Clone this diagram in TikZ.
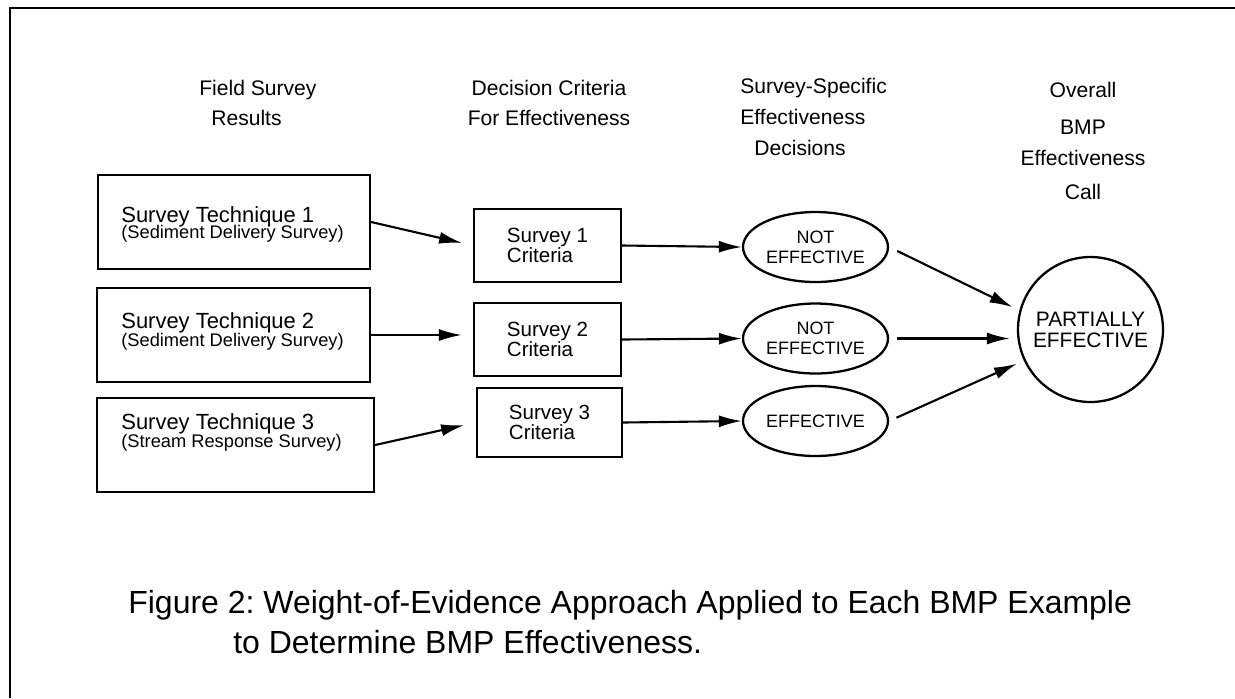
\documentclass[tikz,border=0pt]{standalone}
\usepackage{fontspec}
\setmainfont{Liberation Sans}
\usepackage{tikz}
\usetikzlibrary{arrows.meta,positioning,shapes.geometric}

\newcommand{\subline}{\fontsize{10.4}{10.5}\selectfont}
\frenchspacing

\begin{document}
\begin{tikzpicture}[x=0.02cm,y=-0.02cm,
    technique/.style={draw=black,line width=1.3pt,minimum width=5.44cm,
      minimum height=1.88cm,inner sep=0pt},
    techtext/.style={align=left,inner sep=0pt,anchor=north west,
      font=\fontsize{12.5}{10.5}\selectfont},
    crit/.style={draw=black,line width=1.3pt,minimum width=2.94cm,
      minimum height=1.46cm,inner sep=0pt,align=left,
      font=\fontsize{11.7}{11.8}\selectfont},
    verdict/.style={draw=black,line width=1.3pt,ellipse,minimum width=2.9cm,
      minimum height=1.4cm,inner sep=0pt,align=center,
      font=\fontsize{10.2}{11.4}\selectfont},
    overall/.style={draw=black,line width=1.3pt,circle,minimum size=2.9cm,
      inner sep=0pt,align=center,font=\fontsize{11.9}{12}\selectfont},
    head/.style={inner sep=0pt,font=\fontsize{12}{17}\selectfont},
    flow/.style={-{Latex[length=4.6mm,width=2.4mm]},line width=1.2pt}
  ]
    \path[use as bounding box,fill=white] (0,0) rectangle (1235,698);
    \draw[line width=1.1pt] (10,698) -- (10,8) -- (1235,8);

    % column headings
    \node[head,align=left,anchor=north west] (hfield) at (199,80)
      {Field Survey\\\hspace*{0.24cm}Results};
    \node[head,align=center,anchor=north] (hcrit) at (549,80)
      {Decision Criteria\\For Effectiveness};
    \node[head,align=left,anchor=north west,font=\fontsize{12}{17.6}\selectfont]
      (hdec) at (740,78) {Survey-Specific\\Effectiveness\\\hspace*{0.28cm}Decisions};
    \node[head,align=center,anchor=north,font=\fontsize{12}{19.7}\selectfont]
      (hcall) at (1083,82) {Overall\\[1pt]BMP\\[-2pt]Effectiveness\\Call};

    % field surveys
    \node[technique] (tech1) at (234,222) {};
    \node[technique,minimum width=5.46cm] (tech2) at (233.5,335) {};
    \node[technique,minimum width=5.54cm] (tech3) at (235.5,445) {};
    \node[techtext] (tech1txt) at (121,206)
      {Survey Technique 1\\[-1pt]{\subline (Sediment Delivery Survey)}};
    \node[techtext] (tech2txt) at (121,312)
      {Survey Technique 2\\{\subline (Sediment Delivery Survey)}};
    \node[techtext] (tech3txt) at (121,413)
      {Survey Technique 3\\{\subline (Stream Response Survey)}};

    % criteria
    \node[crit] (crit1) at (547.5,245.5) {Survey 1\\Criteria};
    \node[crit] (crit2) at (547.5,339.5) {Survey 2\\Criteria};
    \node[crit,minimum width=2.9cm,minimum height=1.38cm] (crit3) at (549.5,422.5)
      {Survey 3\\Criteria};

    % decisions
    \node[verdict] (verdict1) at (815.5,247) {NOT\\EFFECTIVE};
    \node[verdict] (verdict2) at (815.5,338.5) {NOT\\EFFECTIVE};
    \node[verdict] (verdict3) at (815.5,421) {EFFECTIVE};
    \node[overall] (partial) at (1090.5,329.5) {PARTIALLY\\EFFECTIVE};

    \draw[flow,shorten >=0.22cm] (tech1.east) -- (crit1.west);
    \draw[flow,shorten >=0.22cm] (tech2.east) -- (tech2.east -| crit2.west);
    \draw[flow,shorten >=0.24cm] (tech3.east) -- (crit3.west);
    \draw[flow] (crit1.east) -- (verdict1.west);
    \draw[flow] (crit2.east) -- (verdict2.west);
    \draw[flow] (crit3.east) -- (verdict3.west);
    \draw[flow,shorten <=0.18cm,shorten >=0.15cm] (verdict1.east) -- (partial.165);
    \draw[flow,shorten <=0.16cm,shorten >=0.14cm] (verdict2.east) -- (partial.west |- verdict2.east);
    \draw[flow,shorten <=0.16cm,shorten >=0.15cm] (verdict3.east) -- (partial.205);

    % caption
    \node[inner sep=0pt,anchor=base west,font=\fontsize{18.2}{20}\selectfont] (cap1) at (128,613)
      {Figure 2: Weight-of-Evidence Approach Applied to Each BMP Example};
    \node[inner sep=0pt,anchor=base west,font=\fontsize{18.2}{20}\selectfont] (cap2) at (233,653)
      {to Determine BMP Effectiveness.};
  \end{tikzpicture}
\end{document}
